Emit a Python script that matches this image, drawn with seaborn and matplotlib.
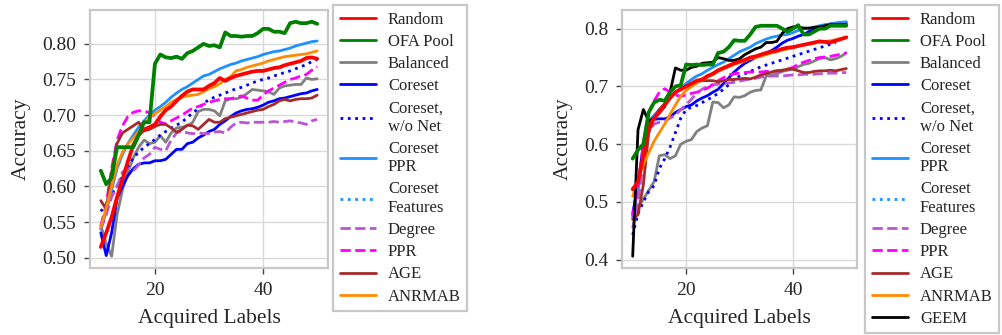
import matplotlib
matplotlib.use("Agg")
import matplotlib.pyplot as plt
from matplotlib.lines import Line2D
from matplotlib.ticker import FormatStrFormatter
import seaborn as sns

# Acquisition budget (number of labelled nodes)
budget = list(range(10, 51))

# ---- left panel ----
left_random = [0.515, 0.535, 0.557, 0.585, 0.610, 0.635, 0.658, 0.672, 0.680, 0.683,
               0.687, 0.698, 0.707, 0.712, 0.720, 0.727, 0.733, 0.736, 0.736, 0.736,
               0.741, 0.745, 0.752, 0.748, 0.752, 0.755, 0.757, 0.759, 0.761, 0.762,
               0.762, 0.764, 0.766, 0.767, 0.770, 0.772, 0.774, 0.776, 0.780, 0.781, 0.779]
left_ofa = [0.622, 0.603, 0.612, 0.655, 0.655, 0.655, 0.655, 0.672, 0.690, 0.690,
            0.772, 0.785, 0.781, 0.780, 0.782, 0.779, 0.787, 0.790, 0.795, 0.800,
            0.797, 0.798, 0.795, 0.816, 0.811, 0.811, 0.810, 0.811, 0.811, 0.815,
            0.821, 0.821, 0.817, 0.817, 0.815, 0.829, 0.831, 0.829, 0.829, 0.831, 0.828]
left_balanced = [0.545, 0.520, 0.502, 0.560, 0.595, 0.620, 0.640, 0.655, 0.665, 0.660,
                 0.662, 0.671, 0.662, 0.675, 0.682, 0.683, 0.685, 0.690, 0.705, 0.708,
                 0.708, 0.706, 0.699, 0.720, 0.723, 0.723, 0.725, 0.730, 0.736, 0.735,
                 0.734, 0.733, 0.729, 0.738, 0.741, 0.742, 0.743, 0.743, 0.752, 0.750, 0.751]
left_coreset = [0.535, 0.503, 0.535, 0.583, 0.600, 0.615, 0.625, 0.631, 0.633, 0.633,
                0.636, 0.636, 0.638, 0.645, 0.652, 0.652, 0.660, 0.662, 0.668, 0.672,
                0.677, 0.680, 0.687, 0.692, 0.698, 0.703, 0.706, 0.708, 0.709, 0.711,
                0.714, 0.718, 0.720, 0.723, 0.724, 0.726, 0.728, 0.730, 0.731, 0.734, 0.736]
left_coreset_nonet = [0.565, 0.575, 0.590, 0.600, 0.615, 0.628, 0.640, 0.648, 0.655, 0.660,
                      0.666, 0.672, 0.677, 0.682, 0.686, 0.690, 0.697, 0.703, 0.709, 0.716,
                      0.722, 0.725, 0.728, 0.731, 0.734, 0.737, 0.739, 0.742, 0.745, 0.748,
                      0.750, 0.752, 0.755, 0.757, 0.760, 0.762, 0.765, 0.768, 0.771, 0.775, 0.778]
left_coreset_ppr = [0.540, 0.565, 0.595, 0.625, 0.645, 0.660, 0.672, 0.683, 0.692, 0.700,
                    0.707, 0.712, 0.718, 0.725, 0.731, 0.736, 0.740, 0.745, 0.750, 0.755,
                    0.757, 0.761, 0.765, 0.768, 0.771, 0.773, 0.776, 0.778, 0.780, 0.782,
                    0.785, 0.787, 0.789, 0.790, 0.792, 0.794, 0.797, 0.799, 0.801, 0.803, 0.804]
left_degree = [0.540, 0.560, 0.585, 0.600, 0.620, 0.625, 0.622, 0.630, 0.640, 0.645,
               0.655, 0.652, 0.650, 0.665, 0.675, 0.678, 0.675, 0.674, 0.675, 0.674,
               0.674, 0.676, 0.677, 0.675, 0.683, 0.689, 0.690, 0.689, 0.690, 0.690,
               0.690, 0.690, 0.691, 0.690, 0.691, 0.692, 0.690, 0.689, 0.687, 0.692, 0.694]
left_ppr = [0.545, 0.575, 0.625, 0.665, 0.685, 0.698, 0.704, 0.706, 0.706, 0.703,
            0.698, 0.690, 0.688, 0.692, 0.696, 0.700, 0.705, 0.710, 0.712, 0.715,
            0.718, 0.720, 0.722, 0.723, 0.723, 0.725, 0.727, 0.724, 0.721, 0.721,
            0.728, 0.734, 0.738, 0.742, 0.746, 0.750, 0.752, 0.755, 0.757, 0.763, 0.768]
left_age = [0.580, 0.568, 0.620, 0.660, 0.675, 0.680, 0.685, 0.690, 0.678, 0.680,
            0.684, 0.687, 0.687, 0.682, 0.676, 0.680, 0.686, 0.685, 0.680, 0.687,
            0.694, 0.690, 0.690, 0.695, 0.697, 0.699, 0.701, 0.703, 0.705, 0.707,
            0.708, 0.712, 0.715, 0.720, 0.722, 0.720, 0.722, 0.723, 0.723, 0.724, 0.728]
left_anrmab = [0.543, 0.570, 0.600, 0.630, 0.648, 0.660, 0.668, 0.677, 0.688, 0.698,
               0.702, 0.707, 0.712, 0.718, 0.722, 0.725, 0.727, 0.728, 0.729, 0.733,
               0.737, 0.740, 0.744, 0.750, 0.754, 0.762, 0.764, 0.767, 0.769, 0.771,
               0.773, 0.776, 0.778, 0.780, 0.782, 0.783, 0.784, 0.785, 0.786, 0.788, 0.790]

# ---- right panel ----
right_random = [0.522, 0.535, 0.580, 0.630, 0.645, 0.655, 0.668, 0.680, 0.690, 0.695,
                0.700, 0.705, 0.710, 0.712, 0.718, 0.722, 0.728, 0.732, 0.736, 0.740,
                0.743, 0.746, 0.750, 0.752, 0.755, 0.758, 0.760, 0.762, 0.765, 0.767,
                0.768, 0.770, 0.772, 0.774, 0.776, 0.778, 0.777, 0.776, 0.779, 0.782, 0.785]
right_ofa = [0.575, 0.590, 0.600, 0.655, 0.672, 0.677, 0.675, 0.690, 0.700, 0.702,
             0.738, 0.737, 0.738, 0.737, 0.738, 0.738, 0.758, 0.760, 0.768, 0.780,
             0.779, 0.779, 0.790, 0.803, 0.805, 0.805, 0.805, 0.805, 0.800, 0.795,
             0.800, 0.806, 0.790, 0.790, 0.795, 0.800, 0.800, 0.805, 0.805, 0.805, 0.805]
right_balanced = [0.472, 0.490, 0.505, 0.520, 0.535, 0.580, 0.582, 0.575, 0.580, 0.600,
                  0.605, 0.608, 0.622, 0.628, 0.632, 0.673, 0.672, 0.663, 0.668, 0.682,
                  0.681, 0.684, 0.690, 0.693, 0.694, 0.718, 0.720, 0.722, 0.726, 0.728,
                  0.730, 0.734, 0.738, 0.740, 0.744, 0.748, 0.750, 0.746, 0.748, 0.752, 0.758]
right_coreset = [0.480, 0.530, 0.600, 0.640, 0.643, 0.644, 0.644, 0.647, 0.655, 0.660,
                 0.665, 0.668, 0.675, 0.680, 0.684, 0.690, 0.695, 0.705, 0.715, 0.725,
                 0.733, 0.740, 0.745, 0.750, 0.755, 0.758, 0.762, 0.768, 0.775, 0.780,
                 0.783, 0.787, 0.790, 0.795, 0.800, 0.803, 0.806, 0.808, 0.809, 0.810, 0.810]
# this run stops two steps early
right_coreset_nonet = [0.443, 0.480, 0.500, 0.518, 0.528, 0.558, 0.575, 0.595, 0.620, 0.645,
                       0.660, 0.664, 0.667, 0.672, 0.677, 0.682, 0.688, 0.695, 0.703, 0.711,
                       0.718, 0.722, 0.726, 0.730, 0.734, 0.737, 0.740, 0.743, 0.746, 0.749,
                       0.752, 0.755, 0.758, 0.761, 0.764, 0.767, 0.770, 0.773, 0.776]
right_coreset_ppr = [0.475, 0.520, 0.580, 0.640, 0.650, 0.660, 0.670, 0.680, 0.690, 0.697,
                     0.705, 0.712, 0.718, 0.722, 0.728, 0.733, 0.738, 0.742, 0.748, 0.754,
                     0.760, 0.764, 0.768, 0.774, 0.778, 0.782, 0.785, 0.787, 0.789, 0.790,
                     0.793, 0.797, 0.800, 0.800, 0.803, 0.805, 0.807, 0.808, 0.810, 0.811, 0.812]
right_degree = [0.455, 0.500, 0.570, 0.620, 0.635, 0.638, 0.640, 0.645, 0.650, 0.660,
                0.668, 0.678, 0.688, 0.695, 0.700, 0.703, 0.704, 0.705, 0.706, 0.707,
                0.709, 0.711, 0.713, 0.714, 0.716, 0.717, 0.718, 0.718, 0.718, 0.719,
                0.720, 0.720, 0.721, 0.721, 0.721, 0.722, 0.722, 0.723, 0.723, 0.724, 0.724]
right_ppr = [0.475, 0.530, 0.600, 0.655, 0.675, 0.690, 0.696, 0.690, 0.685, 0.683,
             0.685, 0.688, 0.690, 0.693, 0.697, 0.703, 0.710, 0.715, 0.720, 0.722,
             0.723, 0.724, 0.725, 0.725, 0.725, 0.726, 0.726, 0.727, 0.727, 0.730,
             0.733, 0.738, 0.742, 0.745, 0.748, 0.750, 0.751, 0.752, 0.754, 0.756, 0.758]
right_age = [0.470, 0.478, 0.530, 0.620, 0.645, 0.660, 0.670, 0.680, 0.690, 0.695,
             0.700, 0.705, 0.708, 0.710, 0.710, 0.710, 0.708, 0.710, 0.712, 0.712,
             0.713, 0.714, 0.713, 0.716, 0.720, 0.722, 0.725, 0.727, 0.728, 0.730,
             0.730, 0.727, 0.724, 0.724, 0.726, 0.727, 0.727, 0.728, 0.727, 0.729, 0.731]
right_anrmab = [0.510, 0.540, 0.565, 0.585, 0.605, 0.620, 0.635, 0.652, 0.668, 0.683,
                0.693, 0.700, 0.706, 0.711, 0.716, 0.720, 0.726, 0.730, 0.734, 0.738,
                0.741, 0.744, 0.748, 0.750, 0.752, 0.755, 0.758, 0.760, 0.763, 0.765,
                0.767, 0.770, 0.772, 0.773, 0.775, 0.777, 0.778, 0.779, 0.781, 0.783, 0.785]
right_geem = [0.406, 0.625, 0.660, 0.640, 0.645, 0.655, 0.665, 0.690, 0.732, 0.728,
              0.728, 0.733, 0.735, 0.740, 0.741, 0.742, 0.750, 0.748, 0.745, 0.745,
              0.748, 0.755, 0.760, 0.765, 0.768, 0.776, 0.776, 0.778, 0.792, 0.800,
              0.803, 0.803, 0.801, 0.801, 0.802, 0.803, 0.805, 0.807, 0.807, 0.807, 0.807]

method_labels = ["Random", "OFA Pool", "Balanced", "Coreset", "Coreset,\nw/o Net",
                 "Coreset\nPPR", "Coreset\nFeatures", "Degree", "PPR", "AGE", "ANRMAB", "GEEM"]

# colour, dash style, width and stacking per method
styles = {
    "Random":            ("red", "-", 2.7, 4),
    "OFA Pool":          ("green", "-", 2.7, 5),
    "Balanced":          ("grey", "-", 2.0, 2),
    "Coreset":           ("blue", "-", 2.0, 2),
    "Coreset,\nw/o Net": ("blue", ":", 2.0, 2),
    "Coreset\nPPR":      ("dodgerblue", "-", 2.0, 2),
    "Coreset\nFeatures": ("dodgerblue", ":", 2.0, 2),
    "Degree":            ("mediumorchid", "--", 2.0, 2),
    "PPR":               ("magenta", "--", 2.0, 2),
    "AGE":               ("brown", "-", 2.0, 2),
    "ANRMAB":            ("darkorange", "-", 2.0, 2),
    "GEEM":              ("black", "-", 2.0, 3),
}

left_series = {
    "Random": left_random, "OFA Pool": left_ofa, "Balanced": left_balanced,
    "Coreset": left_coreset, "Coreset,\nw/o Net": left_coreset_nonet,
    "Coreset\nPPR": left_coreset_ppr, "Degree": left_degree, "PPR": left_ppr,
    "AGE": left_age, "ANRMAB": left_anrmab,
}
right_series = {
    "Random": right_random, "OFA Pool": right_ofa, "Balanced": right_balanced,
    "Coreset": right_coreset, "Coreset,\nw/o Net": right_coreset_nonet,
    "Coreset\nPPR": right_coreset_ppr, "Degree": right_degree, "PPR": right_ppr,
    "AGE": right_age, "ANRMAB": right_anrmab, "GEEM": right_geem,
}

sns.set_style("whitegrid", {
    "axes.edgecolor": "#c8c8c8",
    "grid.color": "#d9d9d9",
    "xtick.bottom": True,
    "ytick.left": True,
})
plt.rcParams["font.family"] = ["Liberation Serif", "DejaVu Serif"]
plt.rcParams["axes.linewidth"] = 1.6
plt.rcParams["grid.linewidth"] = 1.0

fig = plt.figure(figsize=(10.03, 3.35), dpi=100)
W, H = 1003.0, 335.0
ax_l = fig.add_axes([90 / W, 1 - 268 / H, 238 / W, 258 / H])
ax_r = fig.add_axes([622 / W, 1 - 268 / H, 235 / W, 258 / H])


def draw_panel(ax, series):
    for name, vals in series.items():
        color, ls, lw, z = styles[name]
        sns.lineplot(x=budget[:len(vals)], y=vals, ax=ax, color=color,
                     linestyle=ls, linewidth=lw, zorder=z, legend=False)
    ax.set_xlabel("Acquired Labels", fontsize=15.5, labelpad=7)
    ax.set_ylabel("Accuracy", fontsize=15.5, labelpad=8)
    ax.set_xticks([20, 40])
    ax.tick_params(axis="both", labelsize=14, length=4, width=1,
                   color="#444444", pad=6)


draw_panel(ax_l, left_series)
ax_l.set_yticks([0.50, 0.55, 0.60, 0.65, 0.70, 0.75, 0.80])
ax_l.yaxis.set_major_formatter(FormatStrFormatter("%.2f"))

draw_panel(ax_r, right_series)
ax_r.set_yticks([0.4, 0.5, 0.6, 0.7, 0.8])
ax_r.yaxis.set_major_formatter(FormatStrFormatter("%.1f"))


def add_legend(names, anchor):
    handles = []
    for name in names:
        color, ls, lw, _ = styles[name]
        handles.append(Line2D([], [], color=color, linestyle=ls, linewidth=2.0))
    leg = fig.legend(handles, names, loc="upper left", bbox_to_anchor=anchor,
                     bbox_transform=fig.transFigure, fontsize=12,
                     frameon=True, fancybox=False, framealpha=1,
                     edgecolor="#c8c8c8", handlelength=2.2, handletextpad=0.7,
                     labelspacing=0.37, borderpad=0.4, borderaxespad=0)
    leg.get_frame().set_linewidth(1.6)
    return leg


add_legend(method_labels[:11], (333 / W, 1 - 5 / H))
add_legend(method_labels, (865 / W, 1 - 5 / H))

fig.savefig("out.png", dpi=100)
